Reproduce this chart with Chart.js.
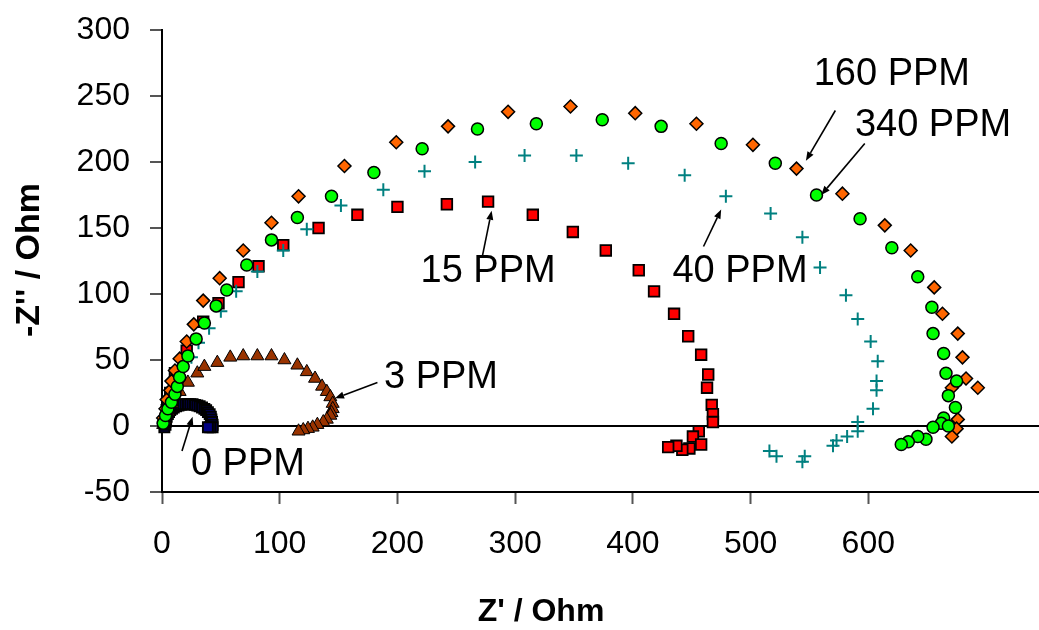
<!DOCTYPE html>
<html>
<head>
<meta charset="utf-8">
<script src="https://cdn.jsdelivr.net/npm/chart.js@4"></script>
<style>
  html, body { margin: 0; padding: 0; background: #ffffff; }
  #wrap { width: 1039px; height: 630px; }
</style>
</head>
<body>
<div id="wrap"><canvas id="chart" width="1039" height="630"></canvas></div>
<script>
// Nyquist plots: impedance at several concentrations (Z' vs -Z'')
const ppm0X = [2, 3, 3, 3.5, 4, 5, 6, 7, 8.5, 10, 12, 14, 16, 18, 20, 22, 24, 26, 28, 30, 32, 34, 36, 37.5, 39, 40.5, 41.5, 42, 42.5, 43, 43, 41, 39];
const ppm0Y = [-1, 1, 3, 5, 7, 9, 10.5, 12, 13, 14, 15, 15.5, 16, 16.5, 16.5, 16.5, 16.5, 16.5, 16, 15.5, 15, 14, 13, 12, 10.5, 9, 7, 5, 3, 1, -1, -1, -1];

const ppm3X = [1, 2.5, 5, 8.5, 15, 22, 30, 36, 47, 58, 69, 81, 93, 104, 115, 123, 130, 136, 140, 143, 145, 145, 144, 143, 140, 137, 132, 128, 124, 120, 116];
const ppm3Y = [1, 5, 11, 17, 26, 33, 40, 45, 48, 52, 53, 53, 53, 50, 46, 41, 36, 30, 26, 22, 17, 13, 10, 8, 5, 3, 1, -1, -2, -3, -4];

const ppm15X = [2, 4, 7, 11, 21, 35, 48, 65, 82, 103, 133, 166, 200, 242, 277, 315, 349, 377, 405, 418, 435, 447, 458, 464, 463, 467, 468, 468, 456, 451, 458, 448, 442, 437, 430];
const ppm15Y = [3, 12, 25, 40, 57, 79, 93, 109, 121, 137, 150, 160, 166, 168, 170, 160, 147, 133, 118, 102, 85, 68, 54, 39, 29, 16, 9, 3, -4, -8, -14, -17, -18, -15, -16];

const ppm40X = [1, 2, 4, 7, 10, 13, 17, 25, 31, 40, 50, 63, 81, 103, 123, 152, 188, 223, 266, 308, 352, 396, 444, 479, 517, 544, 559, 581, 591, 602, 608, 607, 607, 604, 591, 591, 582, 573, 570, 546, 544, 522, 516];
const ppm40Y = [2, 7, 13, 21, 28, 36, 43, 52, 63, 74, 87, 102, 117, 133, 149, 167, 179, 193, 200, 205, 205, 199, 190, 174, 161, 143, 120, 99, 81, 64, 49, 34, 27, 13, 3, -4, -8, -11, -15, -23, -27, -23, -19];

const ppm160X = [1, 3, 4, 7, 8, 11, 15, 21, 27, 35, 49, 69, 93, 116, 155, 199, 243, 294, 347, 402, 454, 502, 539, 578, 614, 636, 656, 663, 676, 680, 683, 693, 671, 676, 675, 671];
const ppm160Y = [6, 13, 20, 27, 34, 42, 51, 64, 77, 95, 112, 133, 154, 174, 197, 215, 227, 238, 242, 237, 229, 213, 195, 176, 152, 133, 105, 85, 70, 52, 36, 29, 29, 5, -2, -8];

const ppm340X = [1, 3, 5, 8, 11, 13, 15, 18, 22, 29, 36, 46, 55, 72, 93, 115, 144, 180, 221, 268, 318, 374, 424, 475, 521, 556, 593, 620, 642, 654, 655, 664, 666, 675, 668, 674, 664, 662, 668, 655, 649, 642, 634, 628];
const ppm340Y = [2, 8, 13, 18, 24, 30, 37, 45, 53, 66, 78, 91, 103, 122, 141, 158, 174, 192, 210, 225, 229, 232, 227, 214, 199, 175, 157, 135, 113, 90, 70, 55, 40, 34, 23, 14, 6, 2, 0, -1, -10, -8, -12, -14];

const xTickValues = [0, 100, 200, 300, 400, 500, 600];
const yTickValues = [-50, 0, 50, 100, 150, 200, 250, 300];

// Callout labels: text position and arrow tail/tip in data units
const noteText = ['0 PPM', '3 PPM', '15 PPM', '40 PPM', '160 PPM', '340 PPM'];
const noteTextX = [73, 237, 277, 491, 620, 655];
const noteTextY = [-29, 37, 117, 117, 266, 228];
const noteTailX = [17, 183, 272, 460, 572, 597];
const noteTailY = [-19, 33, 128, 136, 239, 214];
const noteTipX = [26, 147, 280, 475, 547, 560];
const noteTipY = [7, 21, 163, 164, 201, 175];

const xTitle = "Z' / Ohm";
const yTitle = "-Z'' / Ohm";

const FONT = '"Liberation Sans", Arial, Helvetica, sans-serif';

function pairs(xs, ys) { return xs.map((x, i) => ({ x: x, y: ys[i] })); }

const calloutPlugin = {
  id: 'callouts',
  afterDatasetsDraw(chart) {
    const { ctx, scales: { x, y } } = chart;
    ctx.save();
    ctx.strokeStyle = '#000';
    ctx.fillStyle = '#000';
    ctx.lineWidth = 1.6;
    noteText.forEach((t, i) => {
      const x0 = x.getPixelForValue(noteTailX[i]), y0 = y.getPixelForValue(noteTailY[i]);
      const x1 = x.getPixelForValue(noteTipX[i]), y1 = y.getPixelForValue(noteTipY[i]);
      const ang = Math.atan2(y1 - y0, x1 - x0);
      const head = 9, half = 3.5;
      const bx = x1 - head * Math.cos(ang), by = y1 - head * Math.sin(ang);
      ctx.beginPath();
      ctx.moveTo(x0, y0);
      ctx.lineTo(bx, by);
      ctx.stroke();
      ctx.beginPath();
      ctx.moveTo(x1, y1);
      ctx.lineTo(bx + half * Math.sin(ang), by - half * Math.cos(ang));
      ctx.lineTo(bx - half * Math.sin(ang), by + half * Math.cos(ang));
      ctx.closePath();
      ctx.fill();
      ctx.font = '38px ' + FONT;
      ctx.textAlign = 'center';
      ctx.textBaseline = 'middle';
      ctx.fillText(t, x.getPixelForValue(noteTextX[i]), y.getPixelForValue(noteTextY[i]));
    });

    // axis titles
    ctx.textAlign = 'center';
    ctx.textBaseline = 'middle';
    ctx.font = 'bold 32px ' + FONT;
    ctx.fillText(xTitle, 541, 612);
    ctx.font = 'bold 34px ' + FONT;
    ctx.translate(30, 260);
    ctx.rotate(-Math.PI / 2);
    ctx.fillText(yTitle, 0, 0);
    ctx.restore();
  }
};

const common = { showLine: false, clip: false };

new Chart(document.getElementById('chart'), {
  type: 'scatter',
  data: {
    datasets: [
      Object.assign({ label: '0 PPM', data: pairs(ppm0X, ppm0Y), order: 6,
        pointStyle: 'rect', pointRadius: 7, backgroundColor: '#000080', borderColor: '#000', borderWidth: 2 }, common),
      Object.assign({ label: '3 PPM', data: pairs(ppm3X, ppm3Y), order: 5,
        pointStyle: 'triangle', pointRadius: 7.5, backgroundColor: '#993300', borderColor: '#000', borderWidth: 1 }, common),
      Object.assign({ label: '15 PPM', data: pairs(ppm15X, ppm15Y), order: 4,
        pointStyle: 'rect', pointRadius: 7.5, backgroundColor: '#ff0000', borderColor: '#000', borderWidth: 1.8 }, common),
      Object.assign({ label: '40 PPM', data: pairs(ppm40X, ppm40Y), order: 3,
        pointStyle: 'cross', pointRadius: 6.5, backgroundColor: '#008080', borderColor: '#008080', borderWidth: 2 }, common),
      Object.assign({ label: '160 PPM', data: pairs(ppm160X, ppm160Y), order: 2,
        pointStyle: 'rectRot', pointRadius: 6.5, backgroundColor: '#ff6600', borderColor: '#000', borderWidth: 1.5 }, common),
      Object.assign({ label: '340 PPM', data: pairs(ppm340X, ppm340Y), order: 1,
        pointStyle: 'circle', pointRadius: 6, backgroundColor: '#00ff00', borderColor: '#000', borderWidth: 1.5 }, common)
    ]
  },
  options: {
    responsive: false,
    animation: false,
    devicePixelRatio: 1,
    layout: { autoPadding: false, padding: { top: 30, right: 0, bottom: 0, left: 0 } },
    plugins: { legend: { display: false }, tooltip: { enabled: false } },
    scales: {
      x: {
        type: 'linear', min: 0, max: 745,
        afterBuildTicks(axis) { axis.ticks = xTickValues.map(v => ({ value: v })); },
        afterFit(scale) { scale.height = 138; scale.paddingLeft = 0; scale.paddingRight = 0; },
        border: { display: true, color: '#000', width: 2 },
        grid: { drawOnChartArea: false, drawTicks: true, tickLength: 12, tickColor: '#555', tickWidth: 2 },
        ticks: { padding: 21, color: '#000', font: { family: FONT, size: 32 }, maxRotation: 0, autoSkip: false }
      },
      y: {
        type: 'linear', min: -50, max: 300,
        afterBuildTicks(axis) { axis.ticks = yTickValues.map(v => ({ value: v })); },
        afterFit(scale) { scale.width = 162; scale.paddingTop = 0; scale.paddingBottom = 0; },
        border: { display: true, color: '#000', width: 2 },
        grid: {
          drawTicks: true, tickLength: 12, tickColor: '#555', tickWidth: 2,
          color: c => (c.tick && c.tick.value === 0 ? '#000' : 'rgba(0,0,0,0)'),
          lineWidth: c => (c.tick && c.tick.value === 0 ? 2 : 0)
        },
        ticks: { padding: 20, color: '#000', font: { family: FONT, size: 32 }, autoSkip: false }
      }
    }
  },
  plugins: [calloutPlugin]
});
</script>
</body>
</html>
